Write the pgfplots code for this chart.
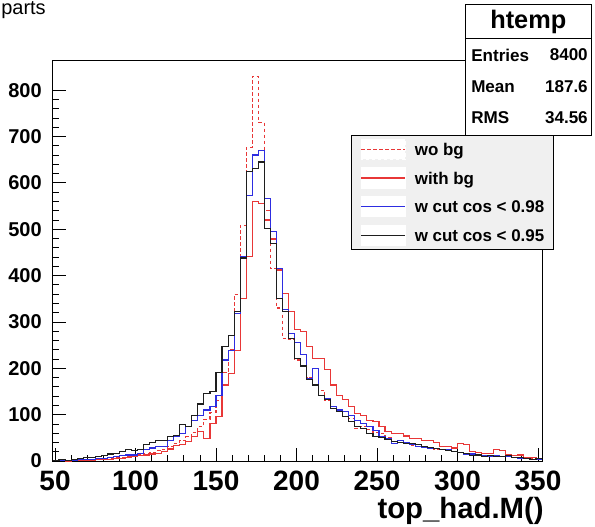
\documentclass[border=0pt]{standalone}
\usepackage{pgfplots}
\pgfplotsset{compat=1.18}
\usepackage{pgfplotstable}
\usepackage{fontspec}
\setmainfont{Liberation Sans}
\definecolor{rred}{RGB}{232,55,55}
\definecolor{rblue}{RGB}{45,45,225}
\definecolor{rblack}{RGB}{30,30,30}
\definecolor{legfill}{RGB}{240,240,240}
\pgfplotstableread{
x wo with c98 c95
48.75 1 1 1 2
52.5 1 1 2 3
56.25 1 0 1 2
60 2 1 2 4
63.75 2 1 3 5
67.5 2 2 3 8
71.25 3 2 4 8
75 4 3 5 10
78.75 4 3 6 12
82.5 6 4 8 15
86.25 7 6 9 17
90 8 6 12 20
93.75 9 7 13 24
97.5 11 10 13 22
101.25 13 11 17 24
105 16 13 24 35
108.75 19 15 28 40
112.5 22 17 31 44
116.25 25 20 31 44
120 32 26 45 52
123.75 38 33 52 55
127.5 45 35 60 78
131.25 52 42 74 75
135 62 52 87 99
138.75 75 63 99 123
142.5 90 49 110 145
146.25 105 81 117 150
150 130 96 142 190
153.75 190 164 218 247
157.5 240 189 239 270
161.25 360 239 318 322
165 508 351 440 438
168.75 676 441 572 624
172.5 830 559 660 631
176.25 730 555 669 645
180 540 520 566 502
183.75 415 479 495 470
187.5 330 412 415 351
191.25 265 362 326 322
195 262 322 275 265
198.75 218 283 255 222
202.5 205 280 229 205
206.25 180 247 178 175
210 165 221 199 164
213.75 153 221 142 142
217.5 130 198 135 132
221.25 118 164 117 114
225 108 142 110 106
228.75 106 132 106 96
232.5 92 117 99 85
236.25 70 103 88 74
240 75 99 81 70
243.75 68 88 74 60
247.5 62 85 65 52
251.25 60 74 52 50
255 50 63 49 47
258.75 42 60 38 42
262.5 40 60 45 40
266.25 38 54 40 38
270 34 49 35 37
273.75 32 49 32 35
277.5 30 45 30 31
281.25 28 45 28 29
285 26 40 27 27
288.75 24 31 24 25
292.5 22 31 25 22
296.25 20 28 20 20
300 18 38 18 18
303.75 16 35 15 16
307.5 15 20 15 12
311.25 13 18 13 13
315 12 17 12 10
318.75 11 17 10 11
322.5 10 24 12 9
326.25 9 22 9 10
330 9 14 10 11
333.75 8 12 8 8
337.5 6 13 6 7
341.25 5 8 6 5
345 5 8 4 4
348.75 4 6 4 5
352.5 4 6 4 5
}\histdata
\begin{document}
\begin{tikzpicture}
% legend shadow (drawn first, behind the legend box)
\fill[black!85] (225.75pt,159.25pt) rectangle (376.1pt,242.25pt);
\begin{axis}[
  at={(0pt,0pt)}, anchor=south west,
  scale only axis, width=366.75pt, height=300.75pt,
  xmin=48.75, xmax=352.5, ymin=0, ymax=865,
  xtick={50,100,...,350}, ytick={0,100,...,800},
  minor x tick num=4, minor y tick num=4,
  tick align=inside, xtick pos=left, ytick pos=left,
  major tick length=9.5pt, minor tick length=4.75pt,
  tick style={black, line width=0.6pt},
  axis line style={line width=0.75pt},
  /pgf/number format/assume math mode=true,
  xticklabel style={font=\fontsize{21}{23}\selectfont\bfseries, anchor=base, yshift=-22pt, inner sep=0pt},
  yticklabel style={font=\fontsize{15}{17}\selectfont\bfseries, anchor=east, xshift=-8.25pt, inner sep=0pt},
  xlabel={top\_had.M()},
  xlabel style={at={(axis description cs:1.004,0)}, anchor=base east, yshift=-43pt, font=\fontsize{22}{24}\selectfont\bfseries, inner sep=0pt},
  legend style={at={(rel axis cs:0.6094,0.813)}, anchor=north west, draw=black, line width=0.75pt, fill=legfill,
    font=\fontsize{12.7}{15}\selectfont\bfseries, inner xsep=6.75pt, inner ysep=2.5pt, row sep=5.6pt, column sep=6.75pt,
    nodes={inner sep=0pt}, cells={anchor=west}},
  legend image code/.code={\fill[white] (0pt,-6.5pt) rectangle (33pt,8.5pt); \draw[#1, line width=1pt] (0pt,1pt) -- (33pt,1pt);},
]
\addplot[const plot mark left, rred, line width=0.85pt, dash pattern=on 2.5pt off 2pt] table[x=x, y=wo] {\histdata};
\addlegendentry{wo bg}
\addplot[const plot mark left, rred, line width=0.85pt] table[x=x, y=with] {\histdata};
\addlegendentry{with bg}
\addplot[const plot mark left, rblue, line width=0.85pt] table[x=x, y=c98] {\histdata};
\addlegendentry{w cut cos < 0.98}
\addplot[const plot mark left, rblack, line width=0.85pt] table[x=x, y=c95] {\histdata};
\addlegendentry{w cut cos < 0.95}
\end{axis}
% stats box
\fill[white] (309pt,244.5pt) rectangle (403.9pt,342pt);
\draw[line width=0.75pt] (309pt,244.5pt) rectangle (403.9pt,342pt);
\draw[line width=0.75pt] (309pt,316.5pt) -- (403.9pt,316.5pt);
\node[font=\fontsize{19}{21}\selectfont\bfseries] at (356.45pt,329.25pt) {htemp};
\begin{scope}[every node/.style={font=\fontsize{12.8}{15}\selectfont\bfseries, inner sep=0pt}]
\node[anchor=west] at (313.5pt,304.5pt) {Entries};
\node[anchor=east] at (401.25pt,304.5pt) {8400};
\node[anchor=west] at (313.5pt,280.5pt) {Mean};
\node[anchor=east] at (401.25pt,280.5pt) {187.6};
\node[anchor=west] at (313.5pt,257.25pt) {RMS};
\node[anchor=east] at (401.25pt,257.25pt) {34.56};
\end{scope}
\node[anchor=base west, font=\fontsize{15}{17}\selectfont, inner sep=0pt] at (-39pt,334.5pt) {parts};
\pgfresetboundingbox
\useasboundingbox (-39.75pt,-48.75pt) rectangle (406.5pt,345.75pt);
\end{tikzpicture}
\end{document}
